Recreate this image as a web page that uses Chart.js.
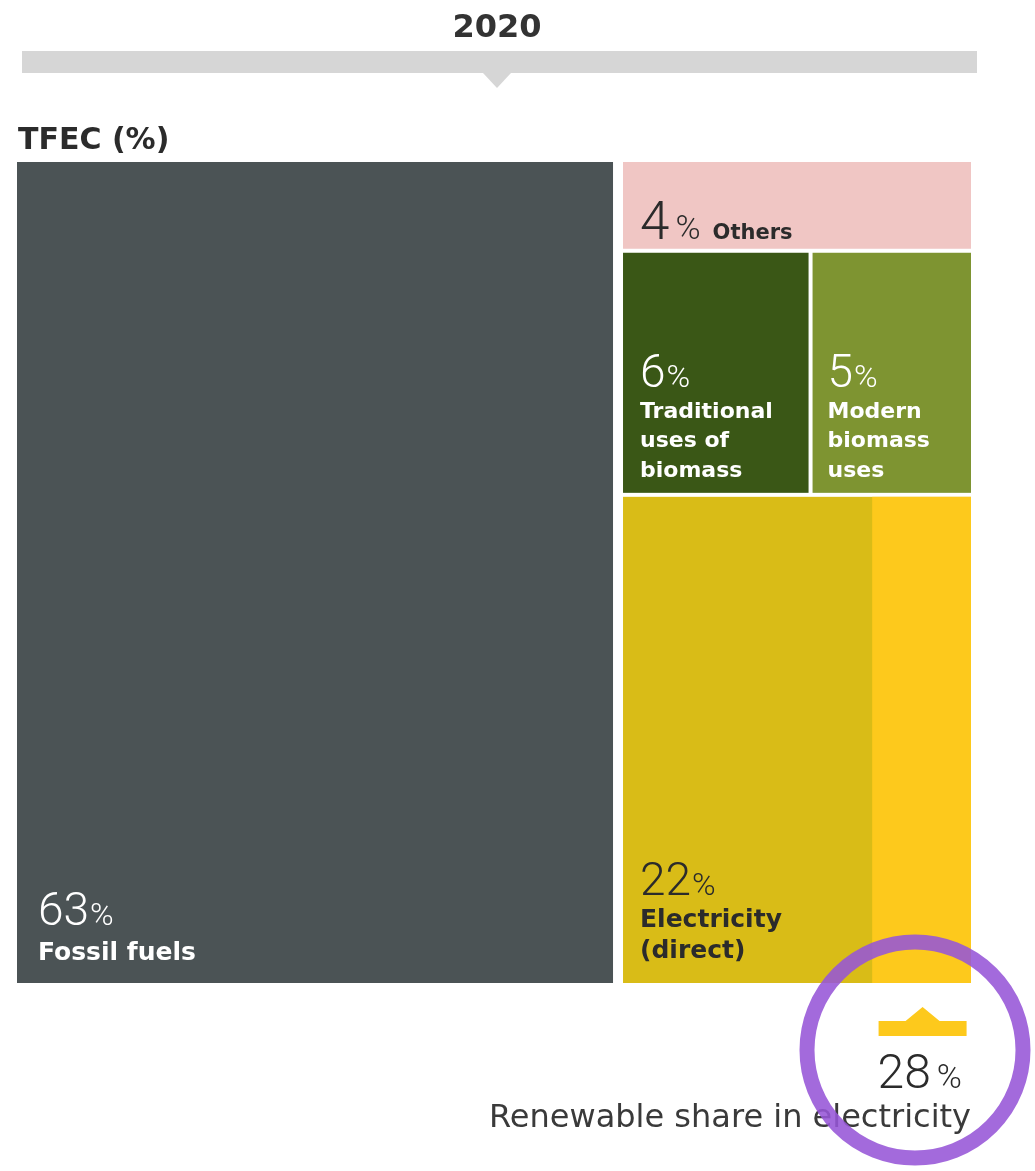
<!DOCTYPE html>
<html>
<head>
<meta charset="utf-8">
<title>TFEC 2020</title>
<script src="https://cdn.jsdelivr.net/npm/chart.js@4.4.0/dist/chart.umd.min.js"></script>
<style>
  html, body { margin: 0; padding: 0; background: #fff; }
  canvas { display: block; }
</style>
</head>
<body>
<canvas id="tfecChart" width="1035" height="1171"></canvas>
<script>
// Shares of total final energy consumption (TFEC), 2020
const year = '2020';
const categories = ['Fossil fuels', 'Others', 'Traditional uses of biomass', 'Modern biomass uses', 'Electricity (direct)'];
const shares = [63, 4, 6, 5, 22];
const labelLines = [['Fossil fuels'], ['Others'], ['Traditional', 'uses of', 'biomass'], ['Modern', 'biomass', 'uses'], ['Electricity', '(direct)']];
const renewableShareInElectricity = 28;

const colors = ['#4b5355', '#f0c6c4', '#3a5716', '#7e9431', '#d9bc17'];
const renewableColor = '#fdc91c';
const darkText = '#2b2b2b';

// per-cell text styling: label size, line height, bottom offset of last line, gap to number
const textStyle = [
  { size: 25, lh: 31, bottom: 23, numGap: 35, pad: 21 },
  { size: 21, lh: 0, bottom: 10, numGap: 0, pad: 17 },
  { size: 22, lh: 29.5, bottom: 16, numGap: 31, pad: 17 },
  { size: 22, lh: 29.5, bottom: 16, numGap: 31, pad: 15 },
  { size: 25, lh: 31, bottom: 25, numGap: 32, pad: 17 }
];

// Treemap cells in axis units (x 0-100, y 0-100): fossil fuels take the full height,
// the rest is stacked in the right-hand column
function layoutCells() {
  const rest = 100 - shares[0];
  const biomass = shares[2] + shares[3];
  const othersH = shares[1] / rest * 100;
  const biomassH = biomass / rest * 100;
  const tradW = shares[2] / biomass * rest;
  return [
    { i: 0, x0: 0, x1: shares[0], y0: 0, y1: 100 },
    { i: 1, x0: shares[0], x1: 100, y0: 100 - othersH, y1: 100 },
    { i: 2, x0: shares[0], x1: shares[0] + tradW, y0: 100 - othersH - biomassH, y1: 100 - othersH },
    { i: 3, x0: shares[0] + tradW, x1: 100, y0: 100 - othersH - biomassH, y1: 100 - othersH },
    { i: 4, x0: shares[0], x1: 100, y0: 0, y1: 100 - othersH - biomassH }
  ];
}

// big light digits followed by a small percent sign
function drawNumber(ctx, x, y, value, color, numSize, pctSize, gap) {
  ctx.fillStyle = color;
  ctx.font = '300 ' + numSize + 'px Roboto';
  ctx.fillText(String(value), x, y);
  const w = ctx.measureText(String(value)).width;
  ctx.font = '300 ' + pctSize + 'px Roboto';
  ctx.fillText('%', x + w + gap, y);
  return w + gap + ctx.measureText('%').width;
}

const treemapPlugin = {
  id: 'treemap',
  afterDraw(chart) {
    const ctx = chart.ctx;
    const xs = chart.scales.x, ys = chart.scales.y;
    const area = chart.chartArea;
    ctx.save();
    ctx.textBaseline = 'alphabetic';

    // header: year and grey pointer bar
    const cx = (area.left + area.right) / 2 + 3;
    ctx.fillStyle = '#333';
    ctx.font = 'bold 32px "DejaVu Sans"';
    ctx.textAlign = 'center';
    ctx.fillText(year, cx, 37);
    ctx.fillStyle = '#d6d6d6';
    ctx.fillRect(22, 51, 955, 22);
    ctx.beginPath();
    ctx.moveTo(cx - 14, 73);
    ctx.lineTo(cx + 14, 73);
    ctx.lineTo(cx, 88);
    ctx.closePath();
    ctx.fill();

    ctx.textAlign = 'left';
    ctx.fillStyle = darkText;
    ctx.font = 'bold 30px "DejaVu Sans"';
    ctx.fillText('TFEC (%)', 18, 149);

    // cells
    const cells = layoutCells();
    const rects = cells.map(c => {
      const inset = v => (v === shares[0] ? 5 : 2);
      const left = xs.getPixelForValue(c.x0) + (c.x0 > 0 ? inset(c.x0) : 0);
      const right = xs.getPixelForValue(c.x1) - (c.x1 < 100 ? inset(c.x1) : 0);
      const top = ys.getPixelForValue(c.y1) + (c.y1 < 100 ? 2 : 0);
      const bottom = ys.getPixelForValue(c.y0) - (c.y0 > 0 ? 2 : 0);
      return { i: c.i, left, right, top, bottom };
    });

    rects.forEach(r => {
      ctx.fillStyle = colors[r.i];
      ctx.fillRect(r.left, r.top, r.right - r.left, r.bottom - r.top);
    });

    // renewable part of direct electricity
    const elec = rects[4];
    const renLeft = xs.getPixelForValue(100 - renewableShareInElectricity / 100 * (100 - shares[0]));
    ctx.fillStyle = renewableColor;
    ctx.fillRect(renLeft, elec.top, elec.right - renLeft, elec.bottom - elec.top);

    // labels, anchored to the bottom-left corner of each cell
    rects.forEach(r => {
      const st = textStyle[r.i];
      const textColor = (r.i === 1 || r.i === 4) ? darkText : '#fff';
      const x = r.left + st.pad;
      if (r.i === 1) {
        const y = r.bottom - st.bottom;
        const w = drawNumber(ctx, x, y, shares[1], textColor, 53, 34, 6);
        ctx.font = 'bold ' + st.size + 'px "DejaVu Sans"';
        ctx.fillText(labelLines[1][0], x + w + 12, y);
        return;
      }
      const lines = labelLines[r.i];
      const lastBase = r.bottom - st.bottom;
      ctx.fillStyle = textColor;
      ctx.font = 'bold ' + st.size + 'px "DejaVu Sans"';
      lines.forEach((t, k) => {
        ctx.fillText(t, x, lastBase - (lines.length - 1 - k) * st.lh);
      });
      const firstBase = lastBase - (lines.length - 1) * st.lh;
      drawNumber(ctx, x, firstBase - st.numGap, shares[r.i], textColor, 46, 32, 1);
    });

    // renewable share marker under the chart
    const mx = (renLeft + elec.right) / 2 + 1;
    const barTop = area.bottom + 38;
    ctx.fillStyle = renewableColor;
    ctx.beginPath();
    ctx.moveTo(mx - 44, barTop + 15);
    ctx.lineTo(mx - 44, barTop);
    ctx.lineTo(mx - 17, barTop);
    ctx.lineTo(mx, barTop - 14);
    ctx.lineTo(mx + 17, barTop);
    ctx.lineTo(mx + 44, barTop);
    ctx.lineTo(mx + 44, barTop + 15);
    ctx.closePath();
    ctx.fill();

    ctx.fillStyle = darkText;
    ctx.textAlign = 'right';
    ctx.font = '300 34px Roboto';
    const pctW = ctx.measureText('%').width;
    ctx.fillText('%', 962, 1088);
    ctx.font = '300 48px Roboto';
    ctx.fillText(String(renewableShareInElectricity), 962 - pctW - 6, 1088);

    ctx.fillStyle = '#3a3a3a';
    ctx.font = '32px "DejaVu Sans"';
    ctx.fillText('Renewable share in electricity', 971, 1127);

    // highlight ring
    ctx.strokeStyle = 'rgba(150, 85, 215, 0.88)';
    ctx.lineWidth = 15;
    ctx.beginPath();
    ctx.arc(915, 1050, 108, 0, Math.PI * 2);
    ctx.stroke();

    ctx.restore();
  }
};

new Chart(document.getElementById('tfecChart'), {
  type: 'scatter',
  data: { datasets: [{ label: 'TFEC', data: [], showLine: false }] },
  options: {
    responsive: false,
    animation: false,
    layout: { padding: { left: 17, top: 162, right: 64, bottom: 188 } },
    plugins: { legend: { display: false }, tooltip: { enabled: false } },
    scales: {
      x: { type: 'linear', min: 0, max: 100, display: false },
      y: { type: 'linear', min: 0, max: 100, display: false }
    }
  },
  plugins: [treemapPlugin]
});
</script>
</body>
</html>
